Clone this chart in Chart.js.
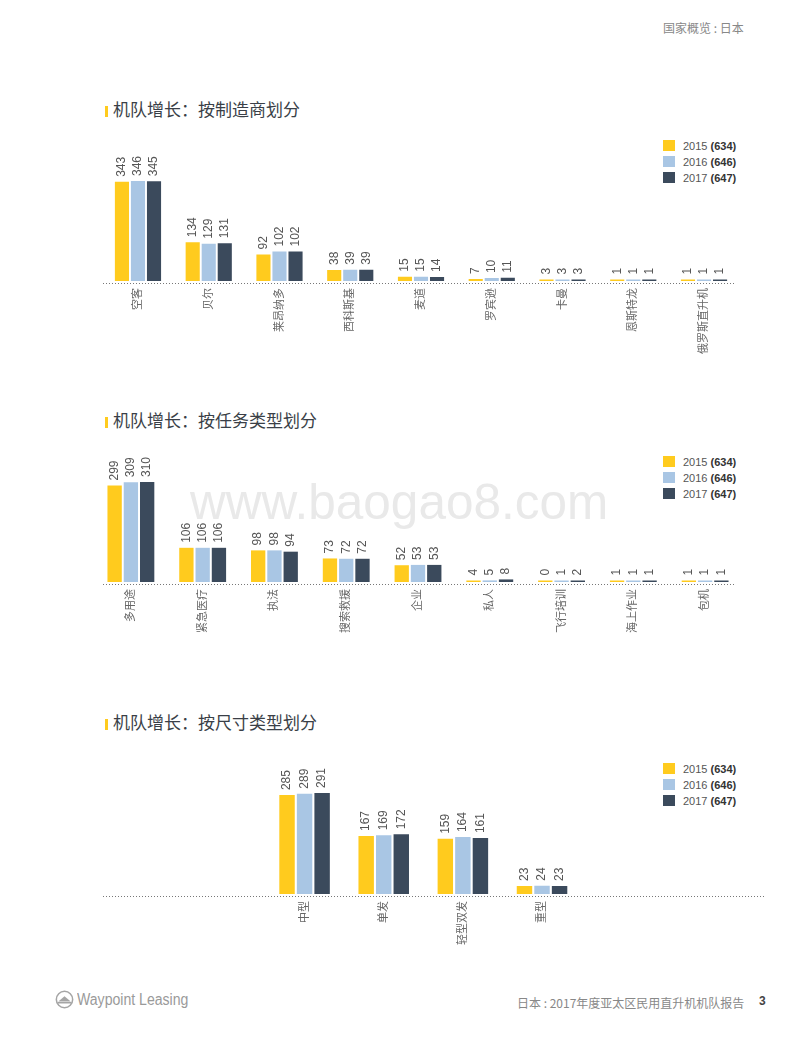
<!DOCTYPE html>
<html>
<head>
<meta charset="utf-8">
<script src="https://cdn.jsdelivr.net/npm/chart.js@4.4.0/dist/chart.umd.min.js"></script>
<style>
  body { margin: 0; background: #fff; font-family: 'Liberation Sans', 'Noto Sans CJK SC', sans-serif; }
  #page { position: relative; width: 800px; height: 1037px; overflow: hidden; }
  canvas { position: absolute; left: 0; }
  .title { position: absolute; left: 105px; font-size: 17px; color: #3a3f47; line-height: 20px; font-family: 'Noto Sans CJK SC', sans-serif; }
  .title:before { content: ''; display: inline-block; width: 3px; height: 11px; background: #ffcb1e; margin-right: 5px; vertical-align: -1px; }
  .legend { position: absolute; left: 663px; font-size: 11px; color: #555; }
  .legend div { height: 16px; line-height: 12px; white-space: nowrap; }
  .legend span.sw { display: inline-block; width: 12px; height: 11px; margin-right: 8px; vertical-align: -1px; }
  .legend b { color: #333; }
  .small { position: absolute; font-size: 12px; color: #888; white-space: nowrap; font-family: 'Noto Sans CJK SC', sans-serif; }
  #wm { position: absolute; left: 190px; top: 477px; font-size: 49.5px; line-height: 1; color: #e9e9e9; font-family: 'Liberation Sans', sans-serif; }
</style>
</head>
<body>
<div id="page">
  <div id="wm">www.baogao8.com</div>
  <div class="small" style="left:663px; top:19px;">国家概览 : 日本</div>

  <div class="title" style="top:99px;">机队增长：按制造商划分</div>
  <div class="title" style="top:410px;">机队增长：按任务类型划分</div>
  <div class="title" style="top:712px;">机队增长：按尺寸类型划分</div>

  <div class="legend" id="leg1" style="top:140px;"></div>
  <div class="legend" id="leg2" style="top:456px;"></div>
  <div class="legend" id="leg3" style="top:763px;"></div>

  <canvas id="c1" width="800" height="231" style="top:130px;"></canvas>
  <canvas id="c2" width="800" height="231" style="top:431px;"></canvas>
  <canvas id="c3" width="800" height="232" style="top:742px;"></canvas>

  <div style="position:absolute; left:55px; top:990px; display:flex; align-items:center; color:#9a9a9a;">
    <svg width="19" height="19" viewBox="0 0 20 20">
      <circle cx="10" cy="10" r="8.6" fill="none" stroke="#a5a5a5" stroke-width="1.6"/>
      <path d="M3.5 12 L10 6.5 L16.5 12 Z" fill="#a5a5a5"/>
      <rect x="3" y="12.6" width="14" height="1.6" fill="#a5a5a5"/>
    </svg>
    <span style="font-family:'Liberation Sans',sans-serif; font-size:16px; margin-left:3px; display:inline-block; transform:scaleX(0.88); transform-origin:left center;">Waypoint Leasing</span>
  </div>
  <div class="small" style="left:517px; top:994px;">日本 : 2017年度亚太区民用直升机机队报告</div>
  <div class="small" style="left:759px; top:994px; color:#444; font-weight:bold; font-family:'Liberation Sans',sans-serif;">3</div>
</div>

<script>
// legend
const years = ['2015', '2016', '2017'];
const totals = [634, 646, 647];
const colors = ['#ffcb1e', '#a9c6e4', '#3b4a5c'];

// 按制造商划分
const manufacturers = ['空客', '贝尔', '莱昂纳多', '西科斯基', '麦道', '罗宾逊', '卡曼', '恩斯特龙', '俄罗斯直升机'];
const maker2015 = [343, 134, 92, 38, 15, 7, 3, 1, 1];
const maker2016 = [346, 129, 102, 39, 15, 10, 3, 1, 1];
const maker2017 = [345, 131, 102, 39, 14, 11, 3, 1, 1];

// 按任务类型划分
const missions = ['多用途', '紧急医疗', '执法', '搜索救援', '企业', '私人', '飞行培训', '海上作业', '包机'];
const mission2015 = [299, 106, 98, 73, 52, 4, 0, 1, 1];
const mission2016 = [309, 106, 98, 72, 53, 5, 1, 1, 1];
const mission2017 = [310, 106, 94, 72, 53, 8, 2, 1, 1];

// 按尺寸类型划分
const sizes = ['中型', '单发', '轻型双发', '重型'];
const size2015 = [285, 167, 159, 23];
const size2016 = [289, 169, 164, 24];
const size2017 = [291, 172, 161, 23];

const fontFamily = "'Liberation Sans', 'Noto Sans CJK SC', sans-serif";

// fill the html legends
['leg1', 'leg2', 'leg3'].forEach(id => {
    const el = document.getElementById(id);
    el.innerHTML = years.map((y, i) =>
        '<div><span class="sw" style="background:' + colors[i] + '"></span>' + y + ' <b>(' + totals[i] + ')</b></div>'
    ).join('');
});

// numbers above the bars, rotated
const valueLabels = {
    id: 'valueLabels',
    afterDatasetsDraw(chart) {
        const ctx = chart.ctx;
        ctx.save();
        ctx.font = '12px ' + fontFamily;
        ctx.fillStyle = '#555';
        ctx.textAlign = 'left';
        ctx.textBaseline = 'middle';
        chart.data.datasets.forEach((ds, di) => {
            chart.getDatasetMeta(di).data.forEach((bar, i) => {
                ctx.save();
                ctx.translate(bar.x, bar.y - 5);
                ctx.rotate(-Math.PI / 2);
                ctx.fillText(String(ds.data[i]), 0, 0);
                ctx.restore();
            });
        });
        ctx.restore();
    }
};

// dotted base line
const dottedBase = {
    id: 'dottedBase',
    beforeDatasetsDraw(chart, args, opts) {
        const ctx = chart.ctx;
        const y = chart.chartArea.bottom + 2.5;
        ctx.save();
        ctx.strokeStyle = '#777';
        ctx.lineWidth = 1;
        ctx.setLineDash([1, 2]);
        ctx.beginPath();
        ctx.moveTo(opts.from, y);
        ctx.lineTo(opts.to, y);
        ctx.stroke();
        ctx.restore();
    }
};

function createChart(id, labels, a, b, c, pad, line) {
    const all = a.concat(b, c);
    const mk = (data, i) => ({
        label: years[i],
        data: data,
        backgroundColor: colors[i],
        borderWidth: 0,
        minBarLength: 1.5,
        categoryPercentage: pad.cat,
        barPercentage: 0.88
    });
    new Chart(document.getElementById(id), {
        type: 'bar',
        data: {
            labels: labels,
            datasets: [mk(a, 0), mk(b, 1), mk(c, 2)]
        },
        options: {
            responsive: false,
            animation: false,
            layout: { padding: { top: 51, left: pad.left, right: pad.right, bottom: 0 } },
            plugins: {
                legend: { display: false },
                tooltip: { enabled: false },
                dottedBase: line
            },
            scales: {
                x: {
                    grid: { display: false, drawTicks: false },
                    border: { display: false },
                    ticks: {
                        autoSkip: false,
                        minRotation: 90,
                        maxRotation: 90,
                        padding: 7,
                        color: '#666',
                        font: { size: 11, family: fontFamily }
                    },
                    afterFit: axis => { axis.height = 80; }
                },
                y: {
                    display: false,
                    min: 0,
                    max: Math.max(...all)
                }
            }
        },
        plugins: [valueLabels, dottedBase]
    });
}

createChart('c1', manufacturers, maker2015, maker2016, maker2017,
    { left: 102.6, right: 60.6, cat: 0.68 }, { from: 103, to: 735 });
createChart('c2', missions, mission2015, mission2016, mission2017,
    { left: 95, right: 59, cat: 0.68 }, { from: 103, to: 735 });
createChart('c3', sizes, size2015, size2016, size2017,
    { left: 265, right: 218.4, cat: 0.665 }, { from: 103, to: 765 });
</script>
</body>
</html>
